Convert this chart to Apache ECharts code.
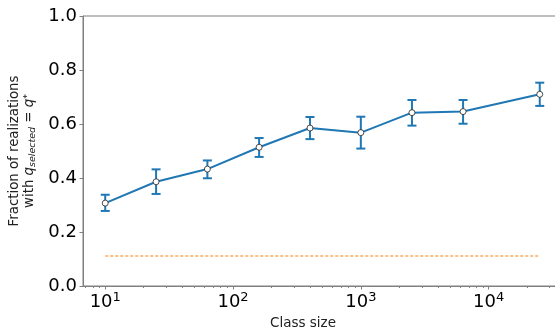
<!DOCTYPE html>
<html><head><meta charset="utf-8">
<script src="https://cdn.jsdelivr.net/npm/echarts@6/dist/echarts.min.js"></script>
<style>html,body{margin:0;padding:0;background:#fff}#c{width:555px;height:333px}</style>
</head><body><div id="c"></div>
<script>
const classSizes = [10, 25, 63, 160, 400, 1000, 2512, 6310, 25119];
const fraction   = [0.307, 0.386, 0.433, 0.514, 0.585, 0.568, 0.642, 0.646, 0.710];
const errLow     = [0.278, 0.341, 0.399, 0.478, 0.544, 0.509, 0.594, 0.601, 0.667];
const errHigh    = [0.338, 0.432, 0.465, 0.548, 0.626, 0.627, 0.689, 0.689, 0.753];
const baselineX  = [10, 25119];
const baselineY  = [0.111, 0.111];
const majorExps  = [1, 2, 3, 4];
const yTicks     = [0, 0.2, 0.4, 0.6, 0.8, 1.0];

const L = v => Math.log10(v);
const xMin = L(6.7), xMax = L(34900);
const minor = [];
for (let n = 0; n <= 4; n++) for (let k = 2; k <= 9; k++) {
  const lv = L(k * Math.pow(10, n));
  if (lv > xMin && lv < xMax) minor.push(lv);
}
const FONT = 'DejaVu Sans';
const spine = '#7f7f7f';
const chart = echarts.init(document.getElementById('c'), null, {renderer: 'canvas'});
chart.setOption({
  animation: false,
  grid: {left: 83, top: 16, right: -3, bottom: 47, show: true, borderColor: spine, borderWidth: 1,
         containLabel: false, outerBoundsMode: 'none'},
  xAxis: [{
    type: 'value', min: xMin, max: xMax,
    splitLine: {show: false},
    axisLine: {show: true, lineStyle: {color: spine}},
    axisTick: {show: true, length: 3.5, lineStyle: {color: spine}, customValues: majorExps},
    axisLabel: {
      customValues: majorExps, margin: 5, color: '#000', fontFamily: FONT, fontSize: 18,
      formatter: v => '10{s|' + Math.round(v) + '}',
      rich: {s: {fontSize: 13, fontFamily: FONT, color: '#000', verticalAlign: 'top', padding: [0, 0, 10, 0]}}
    }
  }, {
    type: 'value', min: xMin, max: xMax, position: 'bottom',
    splitLine: {show: false}, axisLine: {show: false},
    axisTick: {show: true, length: 2, lineStyle: {color: spine}, customValues: minor},
    axisLabel: {show: false}
  }],
  yAxis: {
    type: 'value', min: 0, max: 1, interval: 0.2,
    splitLine: {show: false},
    axisLine: {show: true, lineStyle: {color: spine}},
    axisTick: {show: true, length: 3.5, lineStyle: {color: spine}},
    axisLabel: {color: '#000', fontFamily: FONT, fontSize: 18, margin: 6, formatter: v => v.toFixed(1)},
    name: '{n|Fraction of realizations}\n{n|with }{i|q}{sub|selected}{n| = }{i|q}{sup|*}',
    nameLocation: 'middle', nameRotate: 90, nameGap: 41,
    nameTextStyle: {
      align: 'center', lineHeight: 15,
      rich: {
        n: {fontFamily: FONT, fontSize: 13.3, color: '#222', lineHeight: 15},
        i: {fontFamily: FONT, fontSize: 13.3, fontStyle: 'italic', color: '#222', lineHeight: 15},
        sub: {fontFamily: FONT, fontSize: 9.5, fontStyle: 'italic', color: '#222', verticalAlign: 'bottom', lineHeight: 15, padding: [4, 0, 0, 0]},
        sup: {fontFamily: FONT, fontSize: 9.5, color: '#222', verticalAlign: 'top', lineHeight: 15, padding: [0, 0, 4, 0]}
      }
    }
  },
  graphic: [{
    type: 'text', x: 303, y: 323,
    style: {text: 'Class size', font: '13.5px "DejaVu Sans"', fill: '#222', align: 'center', verticalAlign: 'middle'}
  }],
  series: [{
    type: 'line', xAxisIndex: 0, z: 1,
    data: baselineX.map((x, i) => [L(x), baselineY[i]]),
    showSymbol: false, symbol: 'none',
    lineStyle: {color: '#ff7f0e', width: 1.1, type: [3, 2]}
  }, {
    type: 'custom', xAxisIndex: 0, z: 2,
    data: classSizes.map((x, i) => [L(x), errLow[i], errHigh[i]]),
    renderItem: (params, api) => {
      const lo = api.coord([api.value(0), api.value(1)]);
      const hi = api.coord([api.value(0), api.value(2)]);
      const hw = 4.5;
      const st = {stroke: '#1f77b4', lineWidth: 2};
      return {type: 'group', children: [
        {type: 'line', shape: {x1: lo[0], y1: lo[1], x2: hi[0], y2: hi[1]}, style: st},
        {type: 'line', shape: {x1: lo[0] - hw, y1: lo[1], x2: lo[0] + hw, y2: lo[1]}, style: st},
        {type: 'line', shape: {x1: hi[0] - hw, y1: hi[1], x2: hi[0] + hw, y2: hi[1]}, style: st}
      ]};
    }
  }, {
    type: 'line', xAxisIndex: 0, z: 3,
    data: classSizes.map((x, i) => [L(x), fraction[i]]),
    symbol: 'circle', symbolSize: 6, showSymbol: true,
    lineStyle: {color: '#1f77b4', width: 2},
    itemStyle: {color: '#fff', borderColor: '#222', borderWidth: 0.8}
  }]
});
</script></body></html>
